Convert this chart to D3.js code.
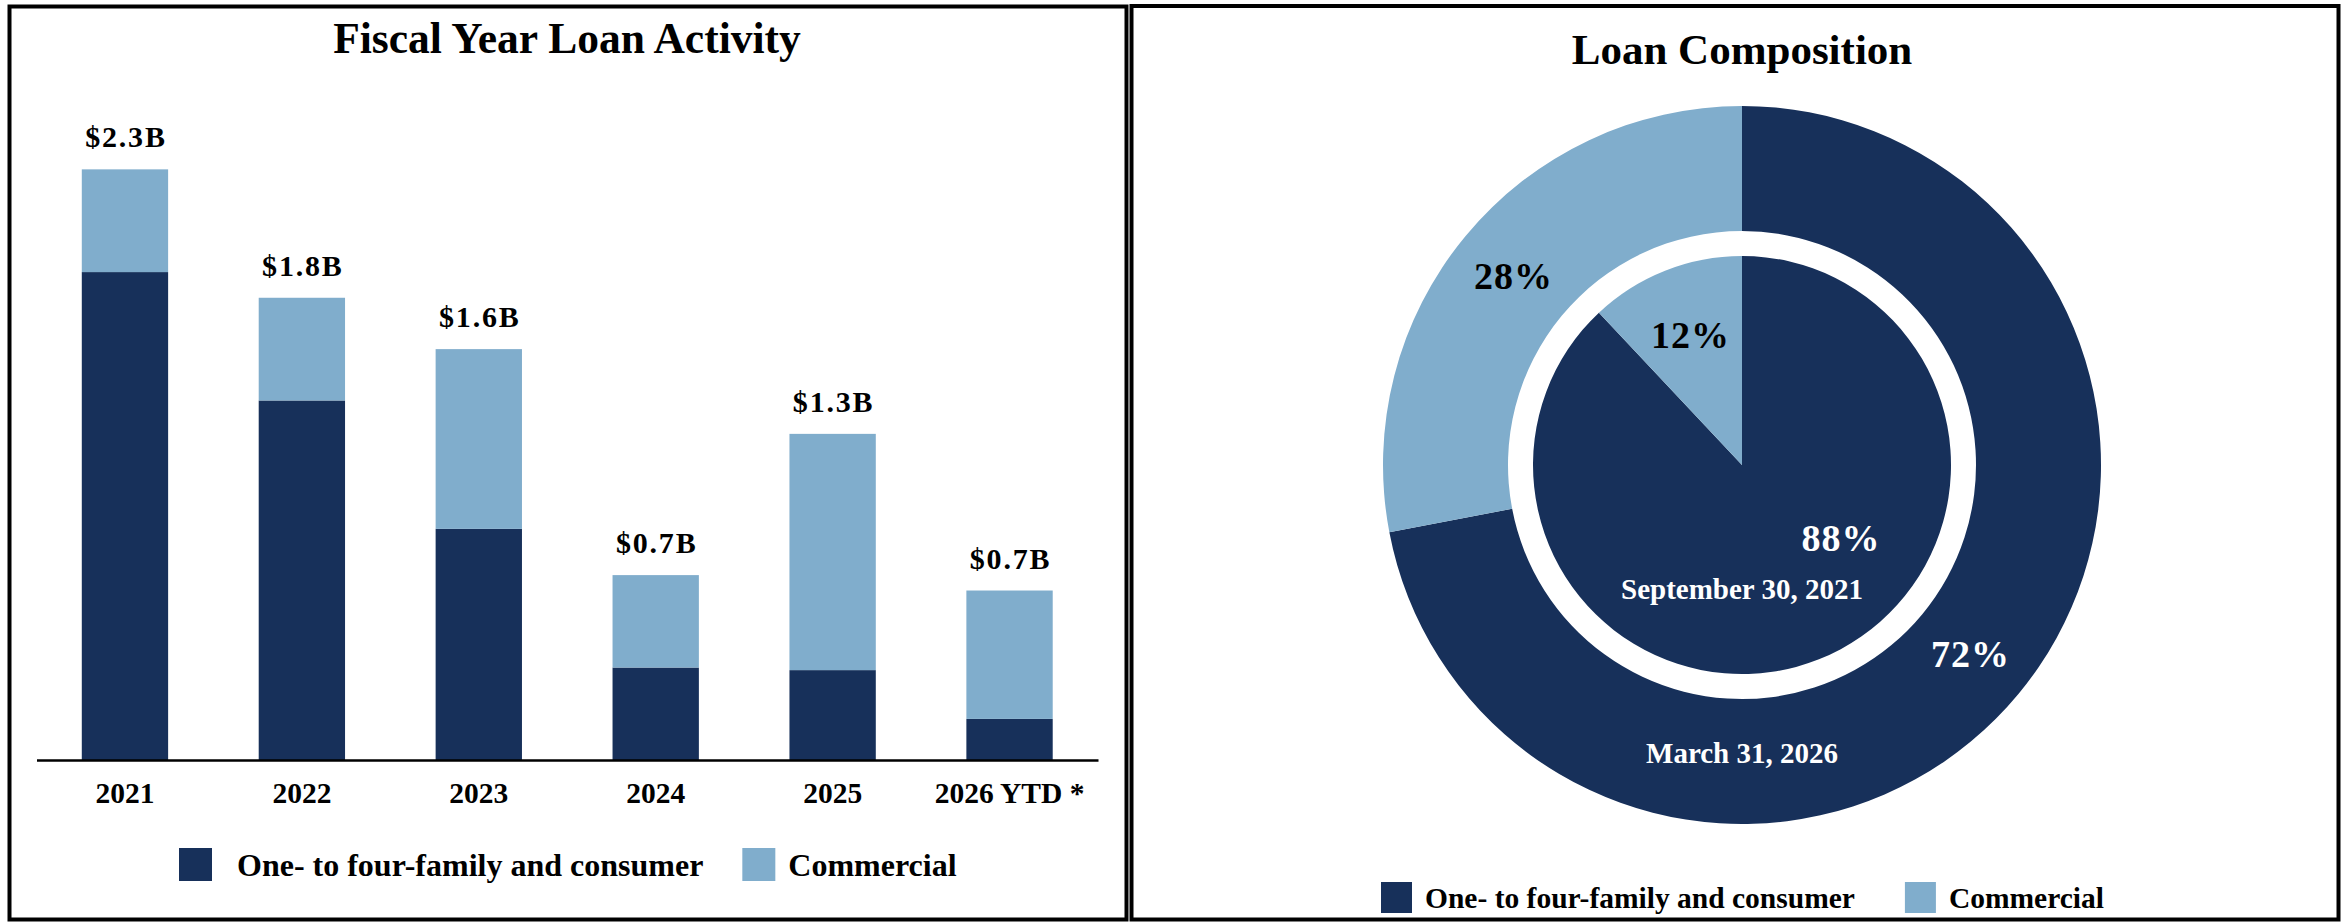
<!DOCTYPE html>
<html>
<head>
<meta charset="utf-8">
<script src="https://cdn.jsdelivr.net/npm/d3@7"></script>
<style>
  body { margin: 0; background: #fff; }
  svg { display: block; font-family: "Liberation Serif", "Times New Roman", serif; font-weight: bold; }
</style>
</head>
<body>
<svg id="chart"></svg>
<script>
// ---- data ----
const years = ["2021", "2022", "2023", "2024", "2025", "2026 YTD *"];
const oneToFour = [1.90, 1.40, 0.90, 0.36, 0.35, 0.16];      // $B
const commercial = [0.40, 0.40, 0.70, 0.36, 0.92, 0.50];     // $B
const totalLabels = ["$2.3B", "$1.8B", "$1.6B", "$0.7B", "$1.3B", "$0.7B"];

const seriesNames = ["One- to four-family and consumer", "Commercial"];
const outerShares = [72, 28];   // March 31, 2026
const innerShares = [88, 12];   // September 30, 2021
const outerDate = "March 31, 2026";
const innerDate = "September 30, 2021";

const colors = ["#17305a", "#80adcc"];

const W = 2343, H = 922;
const svg = d3.select("#chart").attr("width", W).attr("height", H);

// panel frames
svg.append("rect").attr("x", 9.5).attr("y", 6.5).attr("width", 1117).attr("height", 913)
    .attr("fill", "none").attr("stroke", "#000").attr("stroke-width", 4);
svg.append("rect").attr("x", 1131.5).attr("y", 6).attr("width", 1207).attr("height", 913.5)
    .attr("fill", "none").attr("stroke", "#000").attr("stroke-width", 4);

// ================= bar chart =================
svg.append("text")
    .attr("x", 567).attr("y", 53)
    .attr("text-anchor", "middle")
    .attr("font-size", 43.5)
    .text("Fiscal Year Loan Activity");

const rows = years.map((y, i) => ({ year: y, a: oneToFour[i], b: commercial[i] }));
const stacked = d3.stack().keys(["a", "b"])(rows);

const x = d3.scaleBand()
    .domain(years)
    .range([36.5, 1098])
    .paddingInner(0.512)
    .paddingOuter(0.256);

const y = d3.scaleLinear()
    .domain([0, 2.5])
    .range([760, 118]);

const barG = svg.append("g");
barG.selectAll("g.layer")
    .data(stacked)
    .join("g")
    .attr("class", "layer")
    .attr("fill", (d, i) => colors[i])
    .selectAll("rect")
    .data(d => d)
    .join("rect")
    .attr("x", d => x(d.data.year))
    .attr("width", x.bandwidth())
    .attr("y", d => y(d[1]))
    .attr("height", d => y(d[0]) - y(d[1]));

// total labels
barG.selectAll("text.total")
    .data(rows)
    .join("text")
    .attr("class", "total")
    .attr("x", d => x(d.year) + x.bandwidth() / 2 + 1)
    .attr("y", d => y(d.a + d.b) - 22)
    .attr("text-anchor", "middle")
    .attr("font-size", 30)
    .attr("letter-spacing", 1.8)
    .text((d, i) => totalLabels[i]);

// x axis
const xAxis = d3.axisBottom(x).tickSize(0).tickSizeOuter(0).tickPadding(22);
const axisG = svg.append("g")
    .attr("transform", `translate(0,${y(0)})`)
    .call(xAxis);
axisG.select(".domain").attr("stroke", "#000").attr("stroke-width", 2.5);
axisG.selectAll(".tick text")
    .attr("fill", "#000")
    .attr("font-size", 29.5)
    .attr("font-family", "Liberation Serif, Times New Roman, serif")
    .attr("font-weight", "bold");

// legend helper
function drawLegend(opts) {
    const g = svg.append("g");
    let lx = opts.x;
    seriesNames.forEach((name, i) => {
        g.append("rect")
            .attr("x", lx).attr("y", opts.y)
            .attr("width", opts.box).attr("height", opts.box)
            .attr("fill", colors[i]);
        const t = g.append("text")
            .attr("x", lx + opts.box + opts.pad[i])
            .attr("y", opts.y + opts.box - 5)
            .attr("font-size", opts.size)
            .text(name);
        lx += opts.box + opts.pad[i] + t.node().getComputedTextLength() + opts.gap;
    });
}

drawLegend({ x: 179, y: 848, box: 33, pad: [25, 13], gap: 39, size: 32 });

// ================= donut =================
const cx = 1742, cy = 465;
svg.append("text")
    .attr("x", cx).attr("y", 64)
    .attr("text-anchor", "middle")
    .attr("font-size", 43)
    .text("Loan Composition");

const pie = d3.pie().sort(null).value(d => d);
const outerArc = d3.arc().innerRadius(234).outerRadius(359);
const innerArc = d3.arc().innerRadius(0).outerRadius(209);

const donut = svg.append("g").attr("transform", `translate(${cx},${cy})`);

const outerSlices = pie(outerShares);
const innerSlices = pie(innerShares);

donut.selectAll("path.outer")
    .data(outerSlices)
    .join("path")
    .attr("class", "outer")
    .attr("d", outerArc)
    .attr("fill", (d, i) => colors[i]);

donut.selectAll("path.inner")
    .data(innerSlices)
    .join("path")
    .attr("class", "inner")
    .attr("d", innerArc)
    .attr("fill", (d, i) => colors[i]);

// percent labels on outer ring (centroids)
donut.selectAll("text.outerPct")
    .data(outerSlices)
    .join("text")
    .attr("class", "outerPct")
    .attr("x", d => outerArc.centroid(d)[0])
    .attr("y", d => outerArc.centroid(d)[1] + 13)
    .attr("text-anchor", "middle")
    .attr("font-size", 38)
    .attr("letter-spacing", 1)
    .attr("fill", (d, i) => i === 0 ? "#fff" : "#000")
    .text(d => d.data + "%");

// inner labels: placed at polar offsets (angle, radius)
const innerLabelPos = [{ a: 126.4, r: 123 }, { a: 338.4, r: 140 }];
donut.selectAll("text.innerPct")
    .data(innerSlices)
    .join("text")
    .attr("class", "innerPct")
    .attr("x", (d, i) => innerLabelPos[i].r * Math.sin(innerLabelPos[i].a * Math.PI / 180))
    .attr("y", (d, i) => -innerLabelPos[i].r * Math.cos(innerLabelPos[i].a * Math.PI / 180) + 13)
    .attr("text-anchor", "middle")
    .attr("font-size", 38)
    .attr("letter-spacing", 1)
    .attr("fill", (d, i) => i === 0 ? "#fff" : "#000")
    .text(d => d.data + "%");

donut.append("text")
    .attr("x", 0).attr("y", 134)
    .attr("text-anchor", "middle")
    .attr("font-size", 29)
    .attr("fill", "#fff")
    .text(innerDate);

donut.append("text")
    .attr("x", 0).attr("y", 298)
    .attr("text-anchor", "middle")
    .attr("font-size", 29)
    .attr("fill", "#fff")
    .text(outerDate);

drawLegend({ x: 1381, y: 882, box: 31, pad: [13, 13], gap: 50, size: 29.5 });
</script>
</body>
</html>
